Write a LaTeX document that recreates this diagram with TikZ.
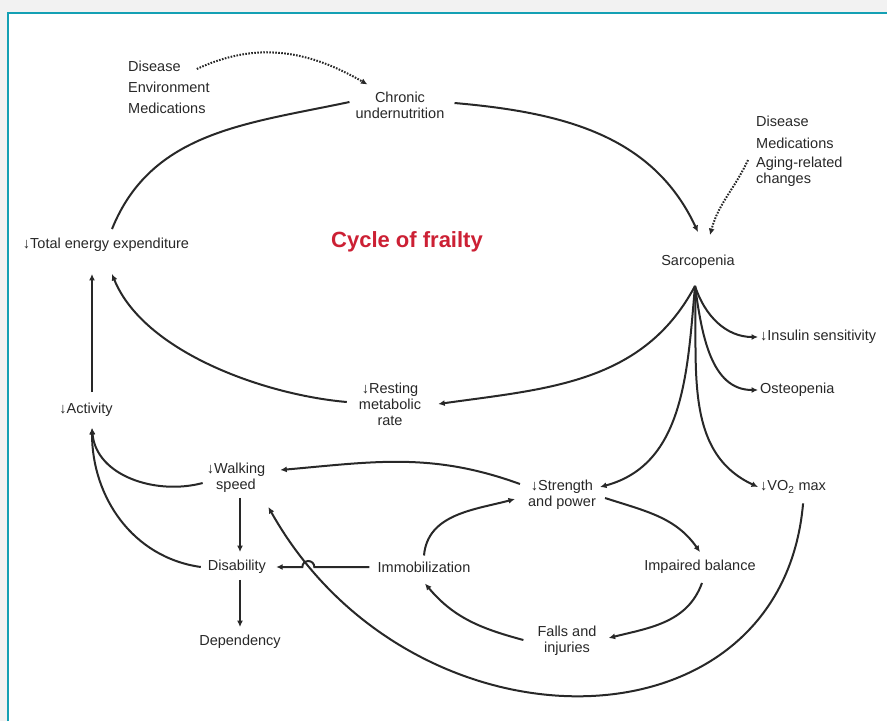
\documentclass[tikz,border=0pt]{standalone}
\usepackage{fontspec}
\setmainfont{Liberation Sans}
\usepackage{tikz}
\usetikzlibrary{arrows.meta,positioning,calc}
\definecolor{frailred}{RGB}{204,32,52}
\definecolor{frameteal}{RGB}{20,160,180}
\definecolor{ink}{RGB}{40,40,40}

\begin{document}
\begin{tikzpicture}[x=1pt,y=1pt,
    lbl/.style={inner sep=2pt, text=ink, font=\fontsize{14.5}{16}\selectfont, align=center},
    side/.style={lbl, anchor=west, align=left},
    link/.style={draw=ink, line width=2pt, -{Latex[length=6.5pt,width=6pt]}},
    cause/.style={link, dash pattern=on 1.6pt off 1.4pt, line width=2pt}]

    %%% Frame %%%
    \useasboundingbox (0,0) rectangle (887,-721);
    \fill[white] (0,0) rectangle (887,-721);
    \fill[black!5] (0,0) rectangle (887,-13);       \fill[black!5] (0,-13) rectangle (8,-721);
    \draw[frameteal, line width=2pt] (8,-721) -- (8,-13) -- (887,-13);

    %%% Upper cycle %%%
    \node[side] (dis1) at (126,-66) {Disease};
    \node[side] (env1) at (126,-87) {Environment};
    \node[side] (med1) at (126,-108) {Medications};
    \node[lbl] (chron) at (400,-105) {Chronic\\undernutrition};
    \node[lbl] (sarc) at (698,-262) {Sarcopenia};
    \node[side] (dis2) at (754,-121) {Disease};
    \node[side] (med2) at (754,-143) {Medications};
    \node[side] (age) at (754,-172) {Aging-related\\changes};
    \node[font=\fontsize{22}{24}\selectfont\bfseries, text=frailred] (title) at (407,-242) {Cycle of frailty};
    \node[lbl] (tee) at (106,-245) {↓Total energy expenditure};
    \node[lbl] (act) at (86,-410) {↓Activity};
    \node[lbl] (rmr) at (390,-404) {↓Resting\\metabolic\\rate};

    %%% Outcomes of sarcopenia %%%
    \node[side] (ins) at (758,-337) {↓Insulin sensitivity};
    \node[side] (ost) at (758,-390) {Osteopenia};
    \node[side] (vo2) at (758,-487) {↓VO\textsubscript{2} max};
    \node[lbl] (str) at (562,-495) {↓Strength\\and power};

    %%% Lower cycle %%%
    \node[lbl] (walk) at (236,-478) {↓Walking\\speed};
    \node[lbl] (dis) at (237,-567) {Disability};
    \node[lbl] (dep) at (240,-642) {Dependency};
    \node[lbl] (imm) at (424,-567) {Immobilization};
    \node[lbl] (bal) at (700,-567) {Impaired balance};
    \node[lbl] (fall) at (567,-641) {Falls and\\injuries};

    %%% Connectors %%%
    \draw[cause] ([shift={(14,-3)}]dis1.east) to[out=25,in=150] ([shift={(14,5)}]chron.north west);
    \draw[cause] ([shift={(-6,12)}]age.west) to[out=245,in=75] ([shift={(12,18)}]sarc.north);
    \draw[link, -] ([shift={(6,7)}]tee.north) to[out=68,in=192] ([shift={(-4,3)}]chron.west);
    \draw[link] ([shift={(8,2)}]chron.east) to[out=-5,in=115] ([yshift=21pt]sarc.north);

    \coordinate (hub) at ([shift={(-3,-15)}]sarc.south);
    \draw[link] (hub) to[out=-72,in=180] (ins.west);
    \draw[link] (hub) to[out=-82,in=180] (ost.west);
    \draw[link] (hub) to[out=-88,in=155] (vo2.west);
    \draw[link] (hub) to[out=-95,in=15] ([shift={(2,8)}]str.east);
    \draw[link] (hub) to[out=-118,in=8] ([xshift=15pt]rmr.east);

    \draw[link] ([shift={(-10,2)}]rmr.west) to[out=175,in=-68,looseness=0.8] ([shift={(6,-20)}]tee.south);
    \draw[link] ([shift={(6,9)}]act.north) -- ([shift={(-14,-20)}]tee.south);
    \draw[link] ([shift={(-2,-5)}]walk.west) to[out=195,in=-85] ([shift={(6,-9)}]act.south);
    \draw[link] ([xshift=-5pt]dis.west) to[out=172,in=-90] ([shift={(6,-9)}]act.south);

    \draw[link] ([shift={(-6,11)}]str.west) to[out=160,in=5] ([shift={(13,8)}]walk.east);
    \draw[link, shorten <=3pt, shorten >=6pt] ([xshift=4pt]walk.south) -- ([xshift=3pt]dis.north);
    \draw[link, shorten <=4pt, shorten >=6pt] ([xshift=3pt]dis.south) -- (dep.north);
    \draw[link] ([xshift=-6pt]imm.west) -- ($(dis.east)!0.43!(imm.west)$)
        arc[start angle=0, end angle=180, radius=6] -- ([xshift=8pt]dis.east);

    \draw[link] ([yshift=4pt]imm.north) to[out=85,in=195] ([shift={(-11,-4)}]str.west);
    \draw[link] ([shift={(7,-3)}]str.east) to[out=-18,in=125] ([yshift=6pt]bal.north);
    \draw[link] ([shift={(2,-7)}]bal.south) to[out=-110,in=14] ([shift={(10,3)}]fall.east);
    \draw[link] ([shift={(-12,1)}]fall.west) to[out=165,in=-50] ([shift={(1,-9)}]imm.south);
    \draw[link] ([shift={(10,-8)}]vo2.south) .. controls +(-22,-255) and +(142,-253) .. ([shift={(1,-12)}]walk.south east);

\end{tikzpicture}
\end{document}
